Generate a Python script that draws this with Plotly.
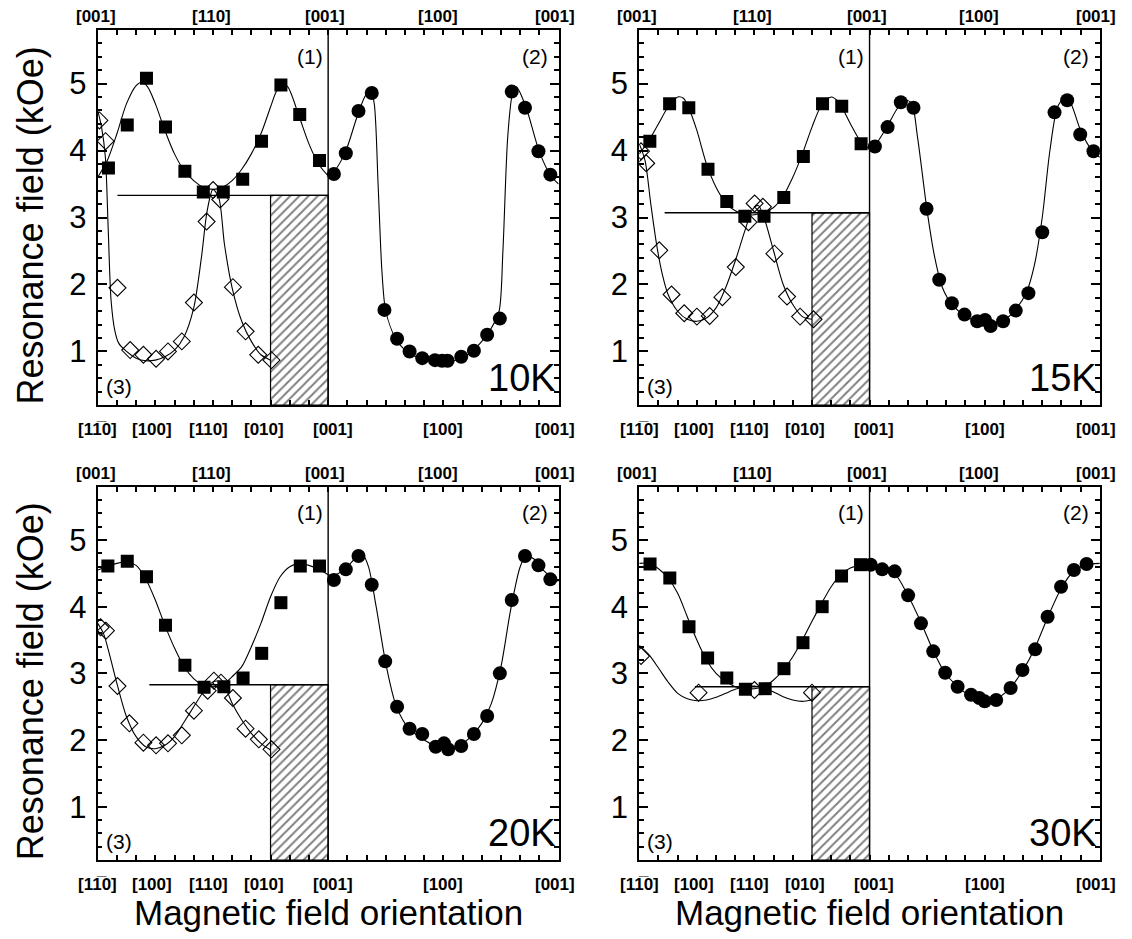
import plotly.graph_objects as go

# ---------------- data (orientation units: 0..24, 12 = [001]) ----------------
temps = ["10K", "15K", "20K", "30K"]

# filled squares, branch (1)
sq10_x = [0.56, 1.54, 2.54, 3.53, 4.54, 5.50, 6.54, 7.55, 8.53, 9.54, 10.52, 11.55]
sq10_y = [3.74, 4.38, 5.08, 4.35, 3.69, 3.38, 3.38, 3.57, 4.14, 4.98, 4.54, 3.85]
sq15_x = [0.55, 1.58, 2.58, 3.58, 4.56, 5.50, 6.50, 7.53, 8.55, 9.55, 10.55, 11.56]
sq15_y = [4.14, 4.70, 4.64, 3.72, 3.24, 3.02, 3.02, 3.30, 3.91, 4.70, 4.66, 4.10]
sq20_x = [0.53, 1.54, 2.54, 3.53, 4.54, 5.54, 6.57, 7.57, 8.54, 9.54, 10.55, 11.55]
sq20_y = [4.61, 4.68, 4.45, 3.72, 3.12, 2.79, 2.80, 2.93, 3.30, 4.06, 4.61, 4.61]
sq30_x = [0.56, 1.59, 2.59, 3.56, 4.56, 5.53, 6.56, 7.54, 8.53, 9.53, 10.54, 11.53]
sq30_y = [4.64, 4.43, 3.70, 3.23, 2.93, 2.76, 2.77, 3.07, 3.46, 4.00, 4.46, 4.63]

# open diamonds, branch (3)
di10_x = [0.09, 0.41, 1.03, 1.69, 2.38, 3.04, 3.66, 4.38, 5.01, 5.67, 6.01, 6.38, 7.04, 7.70, 8.36, 9.05]
di10_y = [4.45, 4.14, 1.95, 1.02, 0.95, 0.89, 1.00, 1.15, 1.73, 2.94, 3.41, 3.27, 1.96, 1.30, 0.95, 0.87]
di15_x = [0.09, 0.36, 1.04, 1.68, 2.34, 3.00, 3.67, 4.33, 5.03, 5.69, 6.01, 6.44, 7.04, 7.70, 8.38, 9.08]
di15_y = [3.99, 3.81, 2.51, 1.85, 1.57, 1.52, 1.53, 1.81, 2.26, 2.93, 3.21, 3.16, 2.46, 1.82, 1.52, 1.48]
di20_x = [0.15, 0.43, 1.03, 1.65, 2.38, 3.04, 3.66, 4.38, 5.01, 5.73, 6.05, 6.42, 7.04, 7.70, 8.39, 9.05]
di20_y = [3.69, 3.64, 2.81, 2.25, 1.96, 1.92, 1.95, 2.07, 2.44, 2.74, 2.89, 2.86, 2.63, 2.17, 2.01, 1.86]
di30_x = [0.09, 3.09, 6.00, 9.00]
di30_y = [3.26, 2.71, 2.75, 2.71]

# filled circles, branch (2)
ci10_x = [12.30, 12.92, 13.58, 14.27, 14.93, 15.59, 16.24, 16.90, 17.56, 17.93, 18.22, 18.93, 19.59, 20.28, 20.94, 21.56, 22.25, 22.95, 23.57]
ci10_y = [3.65, 3.96, 4.59, 4.86, 1.62, 1.19, 1.00, 0.90, 0.87, 0.86, 0.86, 0.92, 1.01, 1.25, 1.49, 4.88, 4.64, 3.99, 3.64]
ci15_x = [12.28, 12.94, 13.63, 14.29, 14.97, 15.63, 16.29, 16.95, 17.61, 18.02, 18.31, 18.96, 19.62, 20.28, 21.00, 21.64, 22.30, 22.98, 23.67]
ci15_y = [4.06, 4.35, 4.72, 4.64, 3.13, 2.07, 1.72, 1.55, 1.45, 1.47, 1.38, 1.45, 1.61, 1.87, 2.78, 4.57, 4.75, 4.24, 3.99]
ci20_x = [12.30, 12.92, 13.58, 14.27, 14.97, 15.59, 16.24, 16.90, 17.60, 18.03, 18.25, 18.93, 19.59, 20.28, 20.94, 21.56, 22.25, 22.95, 23.57]
ci20_y = [4.40, 4.56, 4.76, 4.33, 3.18, 2.50, 2.17, 2.09, 1.90, 1.95, 1.86, 1.91, 2.09, 2.36, 3.00, 4.10, 4.76, 4.62, 4.41]
ci30_x = [12.06, 12.66, 13.31, 14.01, 14.68, 15.32, 15.94, 16.59, 17.29, 17.72, 18.00, 18.60, 19.35, 19.97, 20.63, 21.28, 21.98, 22.65, 23.31]
ci30_y = [4.63, 4.56, 4.53, 4.17, 3.75, 3.33, 3.01, 2.80, 2.68, 2.63, 2.58, 2.60, 2.78, 3.05, 3.36, 3.85, 4.30, 4.55, 4.64]

# fitted curves
fsq10_x = [0, 0.5, 1.0, 1.5, 2.0, 2.3, 2.6, 3.0, 3.5, 4.0, 4.5, 5.0, 5.5, 6.0, 6.5, 7.0, 7.5, 8.0, 8.5, 9.0, 9.3, 9.6, 9.9, 10.5, 11.0, 11.5, 12.0]
fsq10_y = [3.60, 3.85, 4.25, 4.70, 4.97, 5.02, 4.95, 4.70, 4.30, 3.95, 3.70, 3.55, 3.45, 3.42, 3.45, 3.55, 3.72, 3.95, 4.25, 4.65, 4.88, 5.00, 4.95, 4.50, 4.10, 3.80, 3.62]
fsq15_x = [0, 0.5, 1.0, 1.5, 2.0, 2.3, 2.6, 3.0, 3.5, 4.0, 4.5, 5.0, 5.5, 6.0, 6.5, 7.0, 7.5, 8.0, 8.5, 9.0, 9.5, 10.0, 10.4, 11.0, 11.5, 12.0]
fsq15_y = [3.95, 4.15, 4.40, 4.65, 4.80, 4.78, 4.62, 4.30, 3.80, 3.45, 3.22, 3.10, 3.05, 3.04, 3.08, 3.15, 3.32, 3.60, 3.95, 4.35, 4.68, 4.80, 4.72, 4.40, 4.15, 4.02]
fsq20_x = [0, 0.5, 1.0, 1.5, 2.0, 2.5, 3.0, 3.5, 4.0, 4.5, 5.0, 5.5, 6.0, 6.5, 7.0, 7.5, 8.0, 8.5, 9.0, 9.5, 10.0, 10.5, 11.0, 11.5, 12.0]
fsq20_y = [4.55, 4.60, 4.65, 4.67, 4.62, 4.42, 4.10, 3.72, 3.38, 3.10, 2.92, 2.82, 2.80, 2.83, 2.95, 3.10, 3.40, 3.75, 4.15, 4.45, 4.60, 4.65, 4.62, 4.56, 4.48]
fsq30_x = [0, 0.5, 1.0, 1.5, 2.0, 2.5, 3.0, 3.5, 4.0, 4.5, 5.0, 5.5, 6.0, 6.5, 7.0, 7.5, 8.0, 8.5, 9.0, 9.5, 10.0, 10.5, 11.0, 11.5, 12.0]
fsq30_y = [4.65, 4.65, 4.57, 4.43, 4.20, 3.85, 3.50, 3.20, 3.00, 2.88, 2.80, 2.77, 2.77, 2.80, 2.90, 3.05, 3.25, 3.50, 3.78, 4.05, 4.30, 4.48, 4.58, 4.62, 4.62]

fdi10_x = [0, 0.2, 0.4, 0.55, 0.7, 0.9, 1.1, 1.5, 2.0, 2.5, 3.0, 3.5, 4.0, 4.5, 5.0, 5.4, 5.7, 6.0, 6.3, 6.6, 7.0, 7.5, 8.0, 8.5, 9.0]
fdi10_y = [4.60, 4.35, 3.90, 2.80, 1.75, 1.30, 1.12, 1.00, 0.90, 0.86, 0.87, 0.92, 1.02, 1.22, 1.65, 2.40, 3.10, 3.42, 3.30, 2.60, 1.95, 1.45, 1.15, 0.95, 0.87]
fdi15_x = [0, 0.3, 0.6, 0.9, 1.2, 1.5, 2.0, 2.5, 3.0, 3.5, 4.0, 4.5, 5.0, 5.5, 5.9, 6.2, 6.5, 7.0, 7.5, 8.0, 8.5, 9.0]
fdi15_y = [4.10, 3.85, 3.20, 2.60, 2.15, 1.85, 1.60, 1.48, 1.45, 1.50, 1.65, 1.95, 2.35, 2.80, 3.12, 3.18, 3.00, 2.50, 2.00, 1.70, 1.52, 1.48]
fdi20_x = [0, 0.3, 0.6, 1.0, 1.5, 2.0, 2.5, 3.0, 3.5, 4.0, 4.5, 5.0, 5.5, 6.0, 6.3, 6.7, 7.0, 7.5, 8.0, 8.5, 9.0]
fdi20_y = [3.75, 3.60, 3.30, 2.85, 2.35, 2.05, 1.90, 1.87, 1.92, 2.05, 2.27, 2.50, 2.72, 2.87, 2.88, 2.75, 2.55, 2.30, 2.10, 1.95, 1.85]
fdi30_x = [0, 0.5, 1.0, 1.5, 2.0, 2.5, 3.0, 3.5, 4.0, 4.5, 5.0, 5.5, 6.0, 6.5, 7.0, 7.5, 8.0, 8.5, 9.0]
fdi30_y = [3.42, 3.28, 3.08, 2.87, 2.70, 2.62, 2.59, 2.60, 2.64, 2.70, 2.76, 2.80, 2.81, 2.78, 2.72, 2.65, 2.60, 2.58, 2.60]

fci10_x = [12.0, 12.3, 12.9, 13.5, 13.9, 14.2, 14.4, 14.6, 14.8, 15.0, 15.5, 16.0, 16.5, 17.0, 17.5, 18.0, 18.5, 19.0, 19.5, 20.0, 20.5, 20.9, 21.1, 21.35, 21.6, 21.8, 22.3, 23.0, 23.6, 24.0]
fci10_y = [3.60, 3.68, 3.98, 4.50, 4.80, 4.92, 4.70, 3.50, 2.20, 1.60, 1.20, 1.02, 0.93, 0.89, 0.86, 0.85, 0.86, 0.90, 1.00, 1.15, 1.35, 1.60, 2.50, 4.20, 4.85, 4.95, 4.65, 3.98, 3.62, 3.50]
fci15_x = [12.0, 12.3, 12.9, 13.5, 13.9, 14.2, 14.5, 15.0, 15.4, 15.8, 16.3, 17.0, 17.6, 18.2, 19.0, 19.6, 20.2, 20.6, 21.0, 21.4, 21.8, 22.2, 22.5, 23.0, 23.6, 24.0]
fci15_y = [4.00, 4.08, 4.35, 4.65, 4.75, 4.70, 4.20, 3.10, 2.40, 1.95, 1.70, 1.53, 1.45, 1.42, 1.47, 1.62, 1.90, 2.30, 3.00, 4.00, 4.65, 4.80, 4.70, 4.30, 4.00, 3.90]
fci20_x = [12.0, 12.3, 12.9, 13.5, 13.8, 14.1, 14.5, 15.0, 15.5, 16.0, 16.5, 17.0, 17.5, 18.0, 18.5, 19.0, 19.5, 20.0, 20.5, 21.0, 21.5, 22.0, 22.3, 22.7, 23.2, 23.6, 24.0]
fci20_y = [4.48, 4.47, 4.57, 4.75, 4.78, 4.60, 4.00, 3.15, 2.55, 2.25, 2.10, 2.00, 1.92, 1.88, 1.90, 1.95, 2.07, 2.25, 2.55, 3.10, 3.95, 4.60, 4.76, 4.72, 4.55, 4.45, 4.38]
fci30_x = [12.0, 12.6, 13.3, 14.0, 14.7, 15.3, 15.9, 16.6, 17.3, 18.0, 18.6, 19.3, 20.0, 20.6, 21.3, 22.0, 22.6, 23.3, 24.0]
fci30_y = [4.63, 4.58, 4.50, 4.17, 3.75, 3.35, 3.02, 2.80, 2.65, 2.60, 2.62, 2.77, 3.05, 3.37, 3.85, 4.28, 4.52, 4.63, 4.65]

# horizontal level line and hatched region
level_y = [3.33, 3.07, 2.83, 2.80]
level_start = [1.03, 1.32, 2.69, 2.90]
hatch_x = [9.0, 12.0]

# axis tick labels (positions in orientation units, pixel nudges for edge labels)
top_lbl = ["[001]", "[110]", "[001]", "[100]", "[001]"]
top_pos = [0.0, 5.9, 11.85, 17.7, 23.8]
top_shift = [-2, 0, 0, 0, 0]
bot_lbl = ["[11\u03050]", "[100]", "[110]", "[010]", "[001]", "[100]", "[001]"]
bot_pos = [0.0, 2.85, 5.75, 8.65, 12.25, 18.0, 23.8]
y_range = [0.2, 5.8]
x_range = [0, 24]

# ---------------- layout geometry ----------------
W, H = 1132, 939
cols = [(97.7, 558.6), (639.3, 1099.8)]
rows = [(30.0, 405.0), (486.7, 860.0)]

def px2x(p):
    return p / W

def px2y(p):
    return 1 - p / H

panels = [
    dict(t=temps[0], sx=sq10_x, sy=sq10_y, dx=di10_x, dy=di10_y, cx=ci10_x, cy=ci10_y,
         fsx=fsq10_x, fsy=fsq10_y, fdx=fdi10_x, fdy=fdi10_y, fcx=fci10_x, fcy=fci10_y, c=0, r=0),
    dict(t=temps[1], sx=sq15_x, sy=sq15_y, dx=di15_x, dy=di15_y, cx=ci15_x, cy=ci15_y,
         fsx=fsq15_x, fsy=fsq15_y, fdx=fdi15_x, fdy=fdi15_y, fcx=fci15_x, fcy=fci15_y, c=1, r=0),
    dict(t=temps[2], sx=sq20_x, sy=sq20_y, dx=di20_x, dy=di20_y, cx=ci20_x, cy=ci20_y,
         fsx=fsq20_x, fsy=fsq20_y, fdx=fdi20_x, fdy=fdi20_y, fcx=fci20_x, fcy=fci20_y, c=0, r=1),
    dict(t=temps[3], sx=sq30_x, sy=sq30_y, dx=di30_x, dy=di30_y, cx=ci30_x, cy=ci30_y,
         fsx=fsq30_x, fsy=fsq30_y, fdx=fdi30_x, fdy=fdi30_y, fcx=fci30_x, fcy=fci30_y, c=1, r=1),
]

FONT = "Liberation Sans, Arial, sans-serif"
fig = go.Figure()
annotations = []
shapes = []
layout = {}

for i, p in enumerate(panels):
    n = i + 1
    xa = "x" if n == 1 else f"x{n}"
    ya = "y" if n == 1 else f"y{n}"
    x0, x1 = cols[p["c"]]
    y0, y1 = rows[p["r"]]
    common = dict(showline=True, linecolor="black", linewidth=2, mirror="ticks",
                  ticks="inside", tickcolor="black", tickwidth=1.5,
                  showgrid=False, zeroline=False)
    layout["xaxis" if n == 1 else f"xaxis{n}"] = dict(
        domain=[px2x(x0), px2x(x1)], range=x_range, anchor=ya, dtick=1, tick0=0,
        ticklen=5, showticklabels=False, **common)
    layout["yaxis" if n == 1 else f"yaxis{n}"] = dict(
        domain=[px2y(y1), px2y(y0)], range=y_range, anchor=xa, dtick=1, tick0=0,
        ticklen=9, showticklabels=True, ticklabelstandoff=3,
        tickfont=dict(size=31, family=FONT, color="black"),
        minor=dict(dtick=0.2, tick0=0, ticks="inside", ticklen=4.5, tickwidth=1.5,
                   tickcolor="black", showgrid=False),
        **common)

    lev = level_y[i]
    # hatched region
    fig.add_trace(go.Scatter(
        x=[hatch_x[0], hatch_x[1], hatch_x[1], hatch_x[0], hatch_x[0]],
        y=[y_range[0], y_range[0], lev, lev, y_range[0]],
        xaxis=xa, yaxis=ya, mode="lines", fill="toself",
        fillcolor="white", line=dict(color="black", width=1.2),
        fillpattern=dict(shape="/", size=6.5, solidity=0.3, fgcolor="black", bgcolor="white"),
        hoverinfo="skip"))
    # horizontal level line
    fig.add_trace(go.Scatter(x=[level_start[i], hatch_x[1]], y=[lev, lev], xaxis=xa, yaxis=ya,
                             mode="lines", line=dict(color="black", width=1.4), hoverinfo="skip"))
    # fitted curves
    for fx, fy in ((p["fsx"], p["fsy"]), (p["fdx"], p["fdy"]), (p["fcx"], p["fcy"])):
        fig.add_trace(go.Scatter(x=fx, y=fy, xaxis=xa, yaxis=ya, mode="lines",
                                 line=dict(color="black", width=1.1, shape="spline", smoothing=0.8),
                                 hoverinfo="skip"))
    # markers
    fig.add_trace(go.Scatter(x=p["dx"], y=p["dy"], xaxis=xa, yaxis=ya, mode="markers",
                             marker=dict(symbol="diamond-open", size=13, color="black",
                                         line=dict(width=1.1, color="black"))))
    fig.add_trace(go.Scatter(x=p["sx"], y=p["sy"], xaxis=xa, yaxis=ya, mode="markers",
                             marker=dict(symbol="square", size=13, color="black")))
    fig.add_trace(go.Scatter(x=p["cx"], y=p["cy"], xaxis=xa, yaxis=ya, mode="markers",
                             marker=dict(symbol="circle", size=14, color="black")))

    # middle vertical line
    shapes.append(dict(type="line", xref=xa, yref=f"{ya} domain", x0=12, x1=12, y0=0, y1=1,
                       line=dict(color="black", width=1.4)))

    # bracket labels
    for lbl, pos, sh in zip(top_lbl, top_pos, top_shift):
        annotations.append(dict(text=lbl, x=pos, xref=xa, y=px2y(y0 - 13), yref="paper",
                                xshift=sh, showarrow=False, xanchor="center", yanchor="middle",
                                font=dict(size=17, family=FONT, color="black", weight="bold")))
    for lbl, pos in zip(bot_lbl, bot_pos):
        annotations.append(dict(text=lbl, x=pos, xref=xa, y=px2y(y1 + 24), yref="paper",
                                showarrow=False, xanchor="center", yanchor="middle",
                                font=dict(size=17, family=FONT, color="black", weight="bold")))
    # branch labels
    for lbl, xx, yy in (("(1)", 11.05, 5.41), ("(2)", 22.75, 5.41), ("(3)", 1.1, 0.48)):
        annotations.append(dict(text=lbl, x=xx, y=yy, xref=xa, yref=ya, showarrow=False,
                                xanchor="center", yanchor="middle",
                                font=dict(size=21, family=FONT, color="black")))
    # temperature
    annotations.append(dict(text=p["t"], x=23.95, y=0.6, xref=xa, yref=ya, showarrow=False,
                            xanchor="right", yanchor="middle",
                            font=dict(size=38, family=FONT, color="black")))

# axis titles
for r in range(2):
    y0, y1 = rows[r]
    annotations.append(dict(text="Resonance field (kOe)", x=px2x(30), y=px2y((y0 + y1) / 2 + 8),
                            xref="paper", yref="paper", textangle=-90, showarrow=False,
                            xanchor="center", yanchor="middle",
                            font=dict(size=36, family=FONT, color="black")))
for c in range(2):
    x0, x1 = cols[c]
    annotations.append(dict(text="Magnetic field orientation", x=px2x((x0 + x1) / 2), y=px2y(912),
                            xref="paper", yref="paper", showarrow=False,
                            xanchor="center", yanchor="middle",
                            font=dict(size=35, family=FONT, color="black")))

fig.update_layout(width=W, height=H, margin=dict(l=0, r=0, t=0, b=0),
                  plot_bgcolor="white", paper_bgcolor="white", showlegend=False,
                  font=dict(family=FONT, color="black"),
                  annotations=annotations, shapes=shapes, **layout)

fig.write_html("out.html", config={"displayModeBar": False},
               post_script="document.body.style.margin='0';")
